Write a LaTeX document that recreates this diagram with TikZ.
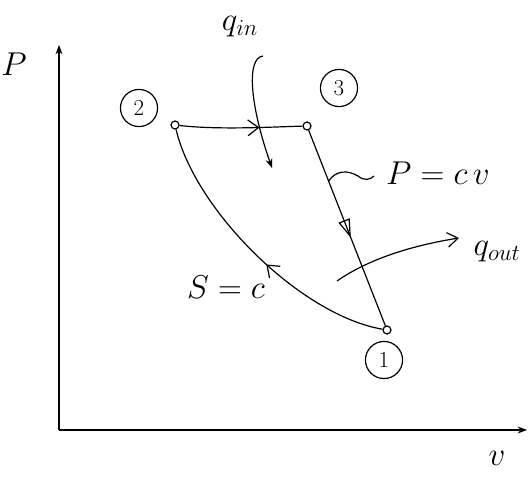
\documentclass[tikz,border=0pt]{standalone}
\usetikzlibrary{arrows.meta,decorations.markings}
\begin{document}
\begin{tikzpicture}[x=0.0265cm,y=-0.0265cm,>=Stealth,line width=0.9pt,
   every node/.style={font=\fontsize{26}{28}\selectfont},
   state/.style={circle,draw,fill=white,inner sep=0pt,minimum size=6pt},
   num/.style={circle,draw,inner sep=0pt,minimum size=28pt,font=\LARGE},
   barb/.style={postaction={decorate,decoration={markings,
     mark=at position #1 with {\arrow{Straight Barb[length=8pt,width=12pt]}}}}},
   tri/.style={postaction={decorate,decoration={markings,
     mark=at position #1 with {\arrow{Triangle[open,length=14pt,width=9pt]}}}}}]
  \useasboundingbox (0,0) rectangle (531,478);
  \coordinate (o) at (59,430);
  \coordinate (ptop) at (59,45);
  \coordinate (vend) at (527,430);
  \draw[->] (o) -- (ptop);
  \draw[->] (o) -- (vend);
  \node (plab) at (14,64) {$P$};
  \node (vlab) at (497,458) {$v$};
  \node[state] (s2) at (175,125) {};
  \node[state] (s3) at (307,126) {};
  \node[state] (s1) at (387,330) {};
  \node[num] (n2) at (139,108) {2};
  \node[num] (n3) at (339,88) {3};
  \node[num] (n1) at (384,360) {1};
  \draw[barb=0.65] (s2) .. controls (220,130) and (270,127) .. (s3);
  \draw[tri=0.55] (s3) -- (s1);
  \draw[barb=0.45] (s1) .. controls (300,315) and (195,210) .. (s2);
  \path (s3) -- (s1) coordinate[pos=0.26] (tc);
  \node (pcv) at (438,173) {$P = c\,v$};
  \coordinate (te) at (374,176);
  \draw (tc) .. controls (336,170) and (348,170) .. (358,176)
     .. controls (364,181) and (370,180) .. (te);
  \node (qin) at (240,27) {$q_{in}$};
  \coordinate (qa) at (263,56);
  \coordinate (qb) at (272,168);
  \draw[->] (qa) .. controls (246,58) and (250,105) .. (qb);
  \node (qout) at (497,252) {$q_{out}$};
  \coordinate (qo) at (337,281);
  \coordinate (qe) at (459,238);
  \draw[-{Straight Barb[length=8pt,width=11pt]}] (qo) .. controls (370,258) and (415,245) .. (qe);
  \node (sc) at (226,287) {$S = c$};
\end{tikzpicture}
\end{document}
